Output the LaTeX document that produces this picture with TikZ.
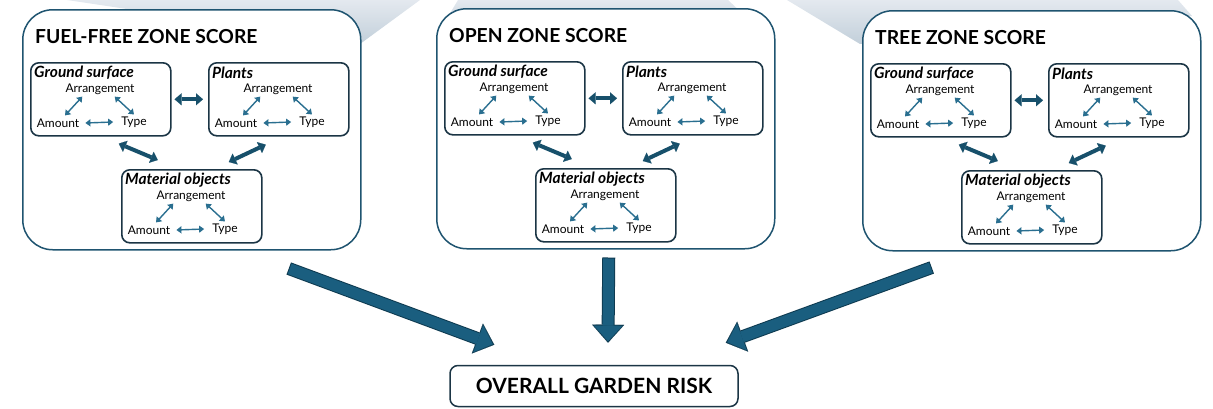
\documentclass[tikz,border=0pt]{standalone}
\usepackage{fontspec}
\setmainfont{Lato}
\usetikzlibrary{arrows.meta, positioning, calc}
\definecolor{bordo}{HTML}{1F5470}
\definecolor{scuro}{HTML}{1B3545}
\definecolor{freccia}{HTML}{2A6F90}
\definecolor{media}{HTML}{17506B}
\definecolor{bloccoblu}{HTML}{1A5E7F}
\definecolor{bloccobordo}{HTML}{0E3A50}
\definecolor{ombrachiara}{HTML}{E4E9EF}
\definecolor{ombrascura}{HTML}{C2CFDA}
\tikzset{
    ombra/.style = {top color = ombrachiara, bottom color = ombrascura},
    panel/.style = {draw = bordo, line width = 1.5pt, rounded corners = 30pt, fill = white, anchor = north west, minimum width = 338pt, minimum height = 240pt, inner sep = 0pt},
    titolo/.style = {anchor = west, inner sep = 0pt, font = \fontsize{19.3}{21}\selectfont\bfseries},
    subbox/.style = {draw = scuro, line width = 1.6pt, rounded corners = 8pt, fill = white, anchor = north west, minimum width = 140pt, minimum height = 73pt, inner sep = 0pt},
    sottotitolo/.style = {anchor = west, inner sep = 0pt, font = \fontsize{15.5}{17}\selectfont\bfseries\itshape},
    voce/.style = {inner sep = 1pt, font = \fontsize{12}{14}\selectfont},
    piccola/.style = {freccia, line width = 1.4pt, {Triangle[width = 7pt, length = 5pt]}-{Triangle[width = 7pt, length = 5pt]}},
    mediafreccia/.style = {media, line width = 4pt, {Triangle[width = 12pt, length = 7pt, line width = 0.1pt]}-{Triangle[width = 12pt, length = 7pt, line width = 0.1pt]}},
    blocco/.style = {bloccoblu, line width = 11pt, -{Triangle[width = 28.5pt, length = 15.5pt, line width = 0.1pt]}, shorten > = 1.6pt, shorten < = 1pt,
        preaction = {draw = bloccobordo, line width = 13pt, -{Triangle[width = 32pt, length = 18pt, line width = 0.1pt]}, shorten > = 0pt, shorten < = 0pt}},
    rischio/.style = {draw = scuro, line width = 1.5pt, rounded corners = 8pt, fill = white, minimum width = 288pt, minimum height = 41pt, font = \fontsize{21}{23}\selectfont\bfseries}
}
% riquadro con Arrangement, Amount, Type
\newcommand{\triade}[3]{
    \node[subbox] (#1) at (#2) {};
    \node[sottotitolo] (#1-t) at ([xshift = 4pt, yshift = -11pt]#1.north west) {#3};
    \node[voce] (#1-arr) at ([xshift = 70pt, yshift = -27pt]#1.north west) {Arrangement};
    \node[voce] (#1-amo) at ([xshift = 28pt, yshift = -61pt]#1.north west) {Amount};
    \node[voce] (#1-typ) at ([xshift = 104pt, yshift = -60pt]#1.north west) {Type};
    \draw[piccola] ([xshift = 18pt, yshift = -1pt]#1-arr.south west) -- ([xshift = 7pt, yshift = 2pt]#1-amo.north);
    \draw[piccola] ([xshift = -21pt, yshift = -1pt]#1-arr.south east) -- ([yshift = 1pt]#1-typ.north);
    \draw[piccola] ([xshift = 5pt]#1-amo.east) -- ([xshift = -7pt]#1-typ.west);
}
% pannello di una zona
\newcommand{\zona}[3]{
    \node[panel] (#1) at (#2) {};
    \node[titolo] (#1-titolo) at ([xshift = 13pt, yshift = -28pt]#1.north west) {#3};
    \triade{#1-gs}{$(#1.north west)+(8,53)$}{Ground surface}
    \triade{#1-pl}{$(#1.north west)+(186,53)$}{Plants}
    \triade{#1-mo}{$(#1.north west)+(99,160)$}{Material objects}
    \draw[mediafreccia] ([xshift = 3pt]#1-gs.east) -- ([xshift = -5pt]#1-pl.west);
    \draw[mediafreccia] ([xshift = 18pt, yshift = -7pt]#1-gs.south) -- ([xshift = -34pt, yshift = 9pt]#1-mo.north);
    \draw[mediafreccia] ([xshift = -13pt, yshift = -8pt]#1-pl.south) -- ([xshift = 37pt, yshift = 7pt]#1-mo.north);
}

\begin{document}
\begin{tikzpicture}[x = 1pt, y = -1pt]
    % area del disegno
    \useasboundingbox (0,0) rectangle (1213,408);
    % ombre in alto
    \shade[ombra] (67,0) -- (420,0) -- (360,44) -- cycle;
    \shade[ombra] (458,0) -- (728,0) -- (760,30) -- (440,30) -- cycle;
    \shade[ombra] (787,0) -- (1178,0) -- (1192,16) -- (860,44) -- cycle;
    % le tre zone
    \zona{fuel}{22,9}{FUEL-FREE ZONE SCORE}
    \zona{open}{436,8}{OPEN ZONE SCORE}
    \zona{tree}{862,10}{TREE ZONE SCORE}
    % rischio complessivo
    \node[rischio] (risk) at (594,386) {OVERALL GARDEN RISK};
    % frecce grandi
    \draw[blocco] ([xshift = 97pt, yshift = -18pt]fuel.south) -- ([xshift = 45pt, yshift = 20pt]risk.north west);
    \draw[blocco] ([xshift = 3pt, yshift = -8pt]open.south) -- ([xshift = 14pt, yshift = 22pt]risk.north);
    \draw[blocco] ([xshift = -100pt, yshift = -16pt]tree.south) -- ([xshift = -13pt, yshift = 22pt]risk.north east);
\end{tikzpicture}
\end{document}
